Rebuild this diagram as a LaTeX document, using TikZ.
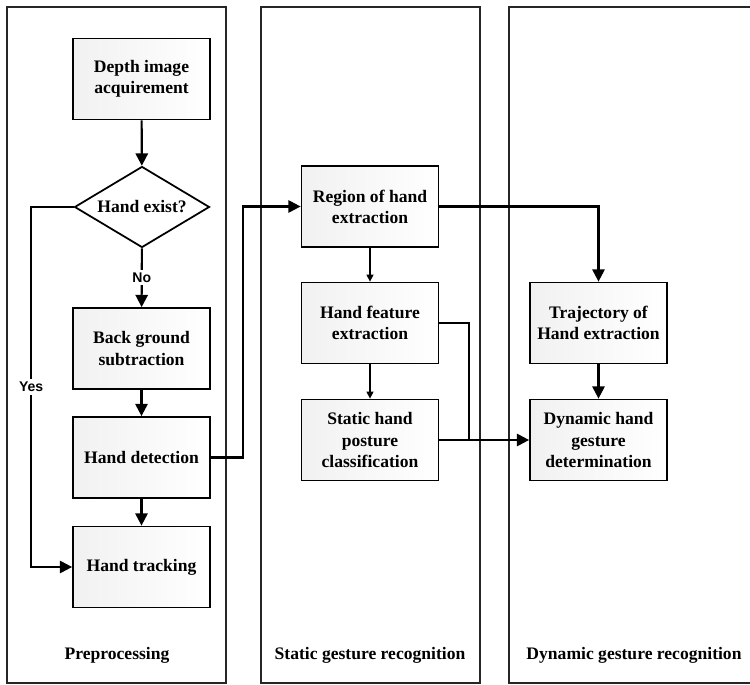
\documentclass[tikz,border=0pt]{standalone}
\usepackage{fontspec}
\setmainfont{Liberation Serif}
\newfontfamily\branchfont{Liberation Sans}
\usetikzlibrary{shapes.geometric,arrows.meta}

\begin{document}
\begin{tikzpicture}[x=0.02cm, y=-0.02cm,
        lane/.style={draw, line width=1.1pt, black!85},
        stage/.style={rectangle, draw, line width=1pt, left color=gray!11, right color=white, minimum width=2.74cm, minimum height=1.62cm, align=center, font=\bfseries, inner sep=2pt},
        decision/.style={diamond, draw, line width=1pt, fill=white, aspect=1.67, minimum width=2.7cm, minimum height=1.62cm, inner sep=0pt, font=\bfseries},
        lane title/.style={font=\bfseries},
        branch/.style={fill=white, inner sep=1.5pt, font=\branchfont\bfseries\footnotesize},
        main edge/.style={draw, line width=1.2pt, -{Triangle[length=7pt,width=7pt]}},
        thin edge/.style={draw, line width=0.6pt, -{Triangle[length=4pt,width=4pt]}},
        plain edge/.style={draw, line width=1.2pt},
    ]
	\useasboundingbox (0,0) rectangle (750,685);
	% lanes
	\draw[lane] (7,7) rectangle (226,683);
	\draw[lane] (261,7) rectangle (480,683);
	\draw[lane] (750,7) -- (509,7) -- (509,683) -- (750,683);
	% preprocessing
	\node[stage] (depth) at (141.5,79) {Depth image\\acquirement};
	\node[decision] (exist) at (142,207) {Hand exist?};
	\node[stage] (back) at (141.5,348.5) {Back ground\\subtraction};
	\node[stage] (detect) at (141.5,457.5) {Hand detection};
	\node[stage] (track) at (141.5,567) {Hand tracking};
	% static gesture recognition
	\node[stage] (region) at (370,206.5) {Region of hand\\extraction};
	\node[stage] (feature) at (370,323) {Hand feature\\extraction};
	\node[stage] (static) at (370,440) {Static hand\\posture\\classification};
	% dynamic gesture recognition
	\node[stage] (traj) at (598.5,323) {Trajectory of\\Hand extraction};
	\node[stage] (dyn) at (598.5,440) {Dynamic hand\\gesture\\determination};
	\coordinate (join) at (469,440);
	% lane titles
	\node[lane title] (pre title) at (117,655) {Preprocessing};
	\node[lane title] (static title) at (370,655) {Static gesture recognition};
	\node[lane title] (dyn title) at (634,655) {Dynamic gesture recognition};
	% edges
	\draw[main edge] (depth) -- (exist);
	\draw[main edge] (exist) -- node[branch, midway] {No} (back);
	\draw[main edge] (exist.west) -- ++(-42.5,0) |- node[branch, pos=0.25] {Yes} (track.west);
	\draw[main edge] (back) -- (detect);
	\draw[main edge] (detect) -- (track);
	\draw[main edge] (detect.east) -- ++(32,0) |- (region.west);
	\draw[thin edge] (region) -- (feature);
	\draw[thin edge] (feature) -- (static);
	\draw[main edge] (region.east) -| (traj.north);
	\draw[plain edge] (feature.east) -| (join);
	\draw[main edge] (static.east) -- (dyn.west);
	\draw[main edge] (traj) -- (dyn);
    \end{tikzpicture}
\end{document}
